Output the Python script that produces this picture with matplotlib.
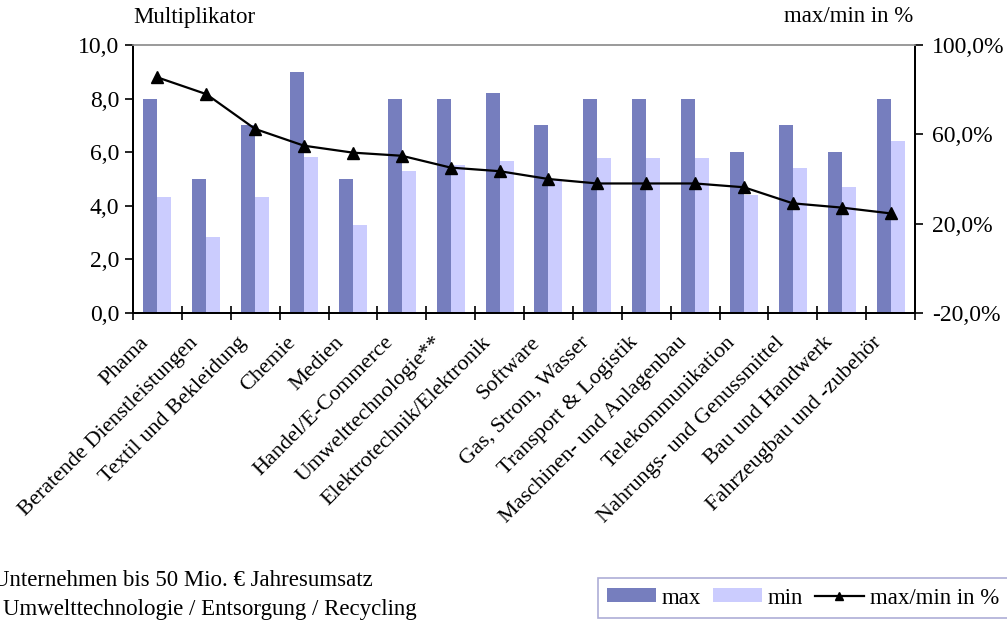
import matplotlib
matplotlib.use("Agg")
import matplotlib.pyplot as plt
import matplotlib.transforms as mtransforms
from matplotlib.ticker import FuncFormatter, FixedLocator
from matplotlib.patches import Patch
from matplotlib.lines import Line2D
import numpy as np

plt.rcParams['font.family'] = ['Liberation Serif', 'DejaVu Serif']

categories = ["Phama", "Beratende Dienstleistungen", "Textil und Bekleidung", "Chemie",
              "Medien", "Handel/E-Commerce", "Umwelttechnologie**", "Elektrotechnik/Elektronik",
              "Software", "Gas, Strom, Wasser", "Transport & Logistik", "Maschinen- und Anlagenbau",
              "Telekommunikation", "Nahrungs- und Genussmittel", "Bau und Handwerk",
              "Fahrzeugbau und -zubehör"]
max_vals = [8.0, 5.0, 7.0, 9.0, 5.0, 8.0, 8.0, 8.2, 7.0, 8.0, 8.0, 8.0, 6.0, 7.0, 6.0, 8.0]
min_vals = [4.33, 2.84, 4.33, 5.82, 3.28, 5.30, 5.52, 5.67, 5.0, 5.8, 5.8, 5.8, 4.4, 5.4, 4.7, 6.42]
ratio_pct = [85.5, 78.0, 62.4, 54.9, 51.8, 50.4, 45.1, 43.5, 40.0, 38.0, 38.0, 38.0, 36.3, 29.1, 27.2, 24.6]

left_ticks = [0, 2, 4, 6, 8, 10]
right_ticks = [-20, 20, 60, 100]

c_max = "#767EBE"
c_min = "#CBCCFE"
FS_TICK = 17
FS_TXT = 16.5
FS_CAT = 16

W, H = 1007, 621
fig = plt.figure(figsize=(W / 100, H / 100), dpi=100)
ax = fig.add_axes([133 / W, 1 - 313 / H, (915 - 133) / W, (313 - 45) / H])
ax2 = ax.twinx()

n = len(categories)
x = np.arange(n) + 0.5
bw = 0.286
ax.bar(x - bw / 2, max_vals, width=bw, color=c_max, zorder=2)
ax.bar(x + bw / 2, min_vals, width=bw, color=c_min, zorder=2)
ax2.plot(x, ratio_pct, color="black", lw=1.6, marker="^", ms=8.5, zorder=3)

ax.set_xlim(0, n)
ax.set_ylim(0, 10)
ax2.set_ylim(-20, 100)

ax.yaxis.set_major_locator(FixedLocator(left_ticks))
ax.yaxis.set_major_formatter(FuncFormatter(lambda v, p: f"{v:.1f}".replace(".", ",")))
ax2.yaxis.set_major_locator(FixedLocator(right_ticks))
ax2.yaxis.set_major_formatter(FuncFormatter(lambda v, p: f"{v:.1f}%".replace(".", ",")))

ax.tick_params(axis="y", direction="out", length=6, width=1.2, labelsize=FS_TICK, pad=4)
ax2.tick_params(axis="y", direction="out", length=6, width=1.2, labelsize=FS_TICK, pad=6)

ax.set_xticks(x)
ax.set_xticklabels(categories, rotation=45, ha="right", rotation_mode="anchor", fontsize=FS_CAT)
ax.tick_params(axis="x", which="major", length=0, pad=8)
ax.set_xticks(np.arange(0, n + 1), minor=True)
ax.tick_params(axis="x", which="minor", direction="inout", length=10, width=1.2)
offset = mtransforms.ScaledTranslation(-18 / 100, -9 / 100, fig.dpi_scale_trans)
for lbl in ax.get_xticklabels():
    lbl.set_transform(lbl.get_transform() + offset)

for a in (ax, ax2):
    a.spines["top"].set_color("#9a9a9a")
    a.spines["top"].set_linewidth(1.2)
    for s in ("left", "right", "bottom"):
        a.spines[s].set_linewidth(1.4)
        a.spines[s].set_color("black")

fig.text(133 / W, 1 - 18 / H, "Multiplikator", fontsize=FS_TXT, ha="left", va="center")
fig.text(913 / W, 1 - 16 / H, "max/min in %", fontsize=FS_TXT, ha="right", va="center")

fig.text(-7 / W, 1 - 581 / H, "Unternehmen bis 50 Mio. € Jahresumsatz", fontsize=FS_TXT, ha="left", va="center")
fig.text(3 / W, 1 - 609 / H, "Umwelttechnologie / Entsorgung / Recycling", fontsize=FS_TXT, ha="left", va="center")

handles = [Patch(facecolor=c_max, edgecolor="none"),
           Patch(facecolor=c_min, edgecolor="none"),
           Line2D([0], [0], color="black", lw=1.6, marker="^", ms=6)]
leg = fig.legend(handles, ["max", "min", "max/min in %"], loc="center",
                 bbox_to_anchor=(803 / W, 1 - 598 / H), ncol=3, frameon=True, fancybox=False,
                 edgecolor="#9999CC", fontsize=FS_TXT, handlelength=2.15, handleheight=0.57,
                 columnspacing=0.5, handletextpad=0.25, borderpad=0.4, borderaxespad=0)
leg.get_frame().set_linewidth(1.2)

fig.savefig("out.png", dpi=100)
